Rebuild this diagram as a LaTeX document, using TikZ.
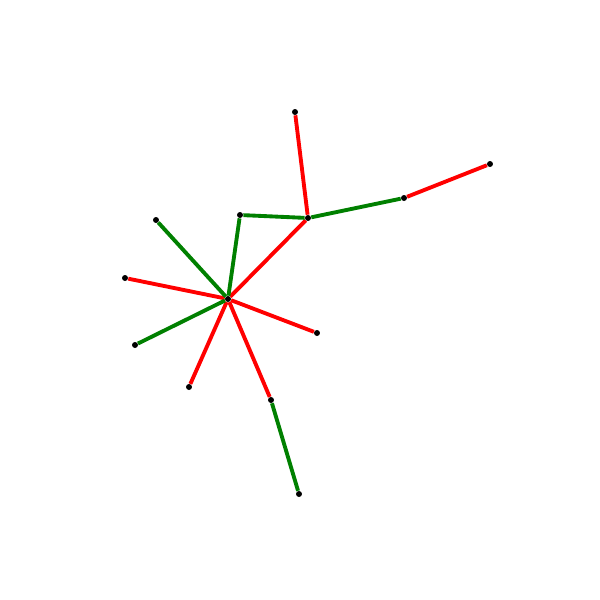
\documentclass[tikz,border=0pt]{standalone}
\usepackage{xcolor}
\usepackage{tikz}
\definecolor{edgegreen}{RGB}{0,128,0}
\definecolor{edgered}{RGB}{255,0,0}

\begin{document}
\begin{tikzpicture}[x=0.02cm,y=-0.02cm,
  dot/.style={circle,fill=black,inner sep=0pt,minimum size=0.12cm},
  redge/.style={edgered,line width=2.2pt},
  gedge/.style={edgegreen,line width=2.2pt}]
\useasboundingbox (0,0) rectangle (600,600);
\foreach \n/\x/\y in {c/228/299,a/295/112,b/308/218,d/404/198,e/490/164,
  f/240/215,g/156/220,h/125/278,i/317/333,j/135/345,k/189/387,l/271/400,m/299/494}{
  \node[dot] (\n) at (\x,\y) {};
}
\foreach \s/\t in {a/b,d/e,b/c,h/c,c/i,k/c,c/l}{
  \draw[redge] (\s) -- (\t);
}
\foreach \s/\t in {b/d,f/b,f/c,g/c,j/c,l/m}{
  \draw[gedge] (\s) -- (\t);
}
\end{tikzpicture}
\end{document}
